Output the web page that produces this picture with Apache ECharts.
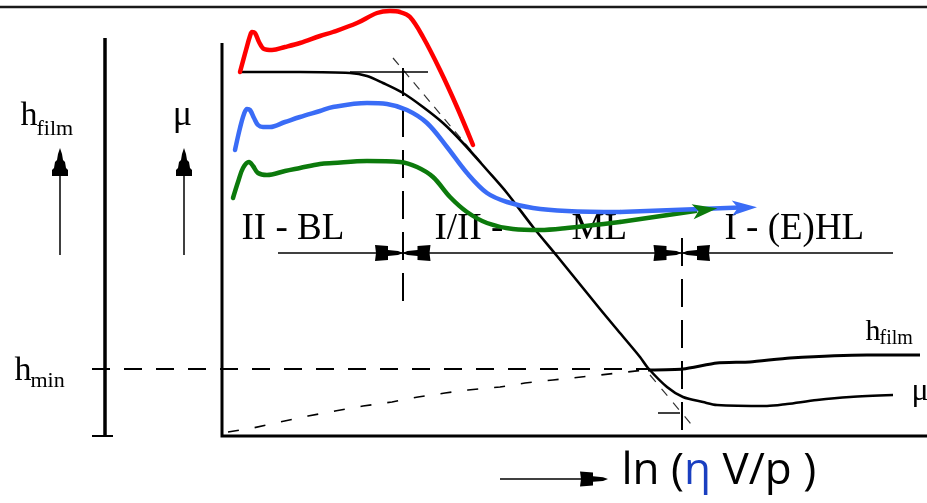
<!DOCTYPE html>
<html>
<head>
<meta charset="utf-8">
<script src="https://cdn.jsdelivr.net/npm/echarts@6/dist/echarts.min.js"></script>
<style>
html,body{margin:0;padding:0;background:#fff;}
#chart{width:927px;height:503px;}
</style>
</head>
<body>
<div id="chart"></div>
<script>
// ---------- data (schematic units: x = ln(eta V/p), y = mu / h) ----------
const xRange = [-44.4, 141];
const yRange = [-16.75, 109];

// coloured measured friction curves
const redCurve = [[3.6,91],[4.8,96.5],[5.6,100],[6.0,101],[6.6,100.75],[7.4,98.5],[8.4,96.75],[10.0,96.5],[12.6,97.25],[15.6,98.25],[19.6,100],[22.2,101],[27.0,103.25],[31.0,105.75],[33.6,106.25],[35.6,106],[37.6,104.75],[40.2,99.75],[43.6,91.5],[47.0,82.25],[50.2,72.75]];
const blueCurve = [[2.6,71.5],[3.6,77],[4.4,80.5],[5.0,81.75],[5.6,81.5],[6.4,79.5],[7.2,77.75],[8.2,77.25],[9.6,77.25],[12.6,78.5],[15.6,79.75],[19.6,81.25],[22.2,82.25],[29.0,83.25],[33.0,83],[37.0,81.5],[41.0,78.25],[45.0,72.25],[49.0,65.75],[53.0,60.75],[57.0,58.5],[62.2,57],[69.0,56.25],[79.6,56]];
const blueTail = [[79.6,56],[103.6,57.1]];
const blueTip = [104.5,57.1];
const greenCurve = [[2.2,59.5],[3.2,63.5],[4.2,67],[5.4,68.5],[6.2,67.5],[7.2,65.75],[9.0,65.25],[12.6,66.25],[15.6,67],[19.6,68],[22.2,68.25],[29.0,68.75],[35.6,68.5],[39.0,67.25],[42.2,64.75],[45.6,59.75],[49.0,56],[53.0,53.25],[58.2,51.75],[63.6,51.5],[69.0,52],[79.6,53.5]];
const greenTail = [[79.6,53.5],[95.0,56.3]];
const greenTip = [96.6,56.5];

// Stribeck (mu) curve and film thickness curve
const muCurve = [[3.6,91],[15.6,91],[25.6,90.75],[29.0,90],[32.2,88.25],[36.2,85.75],[40.2,82.25],[44.2,78.25],[48.2,73.25],[53.0,66.5],[57.0,60.75],[62.2,52.25],[67.0,45],[75.6,31.75],[79.6,25.75],[83.6,19.75],[85.2,17],[89.0,12.25],[92.2,9.75],[96.2,8.5],[99.0,7.75],[109.0,7.5],[113.0,8.0],[119.0,9],[125.6,9.75],[134.2,10.25]];
const muFlatExt = [[25.6,91],[41.2,91]];
const hFilmCurve = [[85.2,16.5],[92.2,16.75],[99.0,18.25],[105.6,18.5],[113.6,19.5],[129.0,20.25],[139.6,20.25]];
const boundaryDashed = [[1.2,1],[6.2,2],[11.6,3.5],[17.2,5],[22.6,6.25],[28.2,7.5],[34.0,8.5],[39.2,9.75],[44.6,10.75],[49.2,11.5],[55.6,12.25],[60.6,13.25],[66.2,14],[75.6,15.25],[84.6,16.5]];
const tangentTop = [[34.2,94.5],[53.6,65.75]];
const tangentBottom = [[85.6,15.25],[94.8,1.5]];
const tangentTick = [[87.2,5.75],[91.6,5.75]];

// axes and reference lines
const muAxis = [[0,98.25],[0,0],[141,0]];
const hAxis = [[-23.4,99.5],[-23.4,0]];
const hAxisTick = [[-26,0],[-21.8,0]];
const hMinLine = [[-26,16.75],[85.2,16.75]];
const regimeLine = [[11.2,45.75],[134.2,45.75]];
const boundary1 = [[36.2,92],[36.2,32.75]];
const boundary2 = [[92,49.5],[92,1]];
const topRule = [[-44.4,107.25],[141,107.25]];
const hArrowShaft = [[-32.4,45.25],[-32.4,67]];
const muArrowShaft = [[-7.6,45.25],[-7.6,67]];
const xArrowShaft = [[55.6,-10.75],[73.6,-10.75]];

// arrow heads
const upHeads = [[-32.4,68.5],[-7.6,68.5]];
const rightHeads = [[33.4,45.75],[89.1,45.75]];
const leftHeads = [[38.9,45.75],[94.8,45.75]];
const xArrowHead = [[74.4,-10.75]];

// text annotations: [x, y, text]
const hLeftMain = [-40.2,79.75,'h'];
const hLeftSub = [-37,76.5,'film'];
const muLeft = [-7.8,80,'μ'];
const hMinMain = [-41.4,16,'h'];
const hMinSub = [-38.2,13.5,'min'];
const hRightMain = [128.8,25.75,'h'];
const hRightSub = [131.6,24.25,'film'];
const muRight = [138,11,'μ'];
const regimeLabels = [[4,51.6,'II - BL'],[42.6,51.6,'I/II -'],[70,51.6,'ML'],[100.6,51.6,'I - (E)HL']];
const xTitle = [80,-9];

// ---------- build ----------
const SERIF = '"Liberation Serif", "DejaVu Serif", serif';
const SANS = '"Open Sans", "Noto Sans", sans-serif';
function line(data, color, width, opts) {
  opts = opts || {};
  return {
    type:'line', data:data, showSymbol:false, symbol:'none', clip:false, silent:true,
    smooth: opts.smooth || false, z: opts.z || 2, animation:false,
    lineStyle:{color:color, width:width, type: opts.dash || 'solid', cap: opts.cap || 'butt', join:'miter', opacity:1}
  };
}
function heads(data, path, size, rotate, color, z) {
  return {
    type:'scatter', data:data, symbol:path, symbolSize:size, symbolRotate:rotate||0,
    clip:false, silent:true, z:z||3, itemStyle:{color:color, opacity:1}
  };
}
function text(item, size, opts) {
  opts = opts || {};
  return {
    type:'scatter', data:[[item[0], item[1]]], symbolSize:1, clip:false, silent:true, z:5,
    itemStyle:{color:'rgba(0,0,0,0)', opacity:1},
    label:{show:true, position:[0,0], align: opts.align || 'left', verticalAlign:'middle', opacity:1,
      formatter: opts.formatter || item[2], fontFamily: opts.family || SERIF, fontSize:size,
      color: opts.color || '#000', fontWeight: opts.weight || 'normal', rich: opts.rich}
  };
}

const HEAD_H = 'path://M0,0 L13,1 L13,5 L23,6 L28,8 L23,10 L13,11 L13,15 L0,16 L1,8 Z';
const HEAD_V = 'path://M8,0 L10,6 L11,12 L13,14 L14,20 L16,22 L16,28 L0,28 L0,22 L2,20 L3,14 L5,12 L6,6 Z';
const HEAD_NOTCH = 'path://M0,0 L25,7.5 L0,15 L6,7.5 Z';

const series = [
  line(topRule, '#1a1a1a', 2.5),
  line(muAxis, '#000', 3),
  line(hAxis, '#000', 3.5),
  line(hAxisTick, '#000', 2),
  line(hMinLine, '#000', 2, {dash:[18,14]}),
  line(hArrowShaft, '#000', 1.5),
  line(muArrowShaft, '#000', 1.5),
  line(regimeLine, '#000', 1.5),
  line(boundary1, '#000', 2, {dash:[28,13]}),
  line(boundary2, '#000', 2, {dash:[28,13]}),
  line(boundaryDashed, '#000', 1.6, {dash:[11,16]}),
  line(tangentTop, '#333', 1.2, {dash:[9,7]}),
  line(tangentBottom, '#333', 1.2, {dash:[9,9]}),
  line(tangentTick, '#000', 1.5),
  line(muFlatExt, '#000', 1.3),
  line(muCurve, '#000', 2.6, {smooth:0.3, z:3}),
  line(hFilmCurve, '#000', 3, {smooth:0.2, z:3}),
  line(xArrowShaft, '#000', 1.5),
  heads(upHeads, HEAD_V, [16,28], 0, '#000'),
  heads(rightHeads, HEAD_H, [28,16], 0, '#000'),
  heads(leftHeads, HEAD_H, [28,16], 180, '#000'),
  heads(xArrowHead, HEAD_H, [28,15], 0, '#000'),
  line(greenCurve, '#0c7a0c', 4.5, {smooth:0.35, z:6, cap:'round'}),
  line(greenTail, '#0c7a0c', 4.5, {z:6}),
  heads([greenTip], HEAD_NOTCH, [25,15], 8, '#0c7a0c', 7),
  line(blueCurve, '#3a6cf6', 4.5, {smooth:0.35, z:6, cap:'round'}),
  line(blueTail, '#3a6cf6', 4.5, {z:6}),
  heads([blueTip], HEAD_NOTCH, [25,15], 2, '#3a6cf6', 7),
  line(redCurve, '#ff0000', 4.5, {smooth:0.35, z:6, cap:'round'}),
  text(hLeftMain, 34),
  text(hLeftSub, 22),
  text(muLeft, 36, {align:'center'}),
  text(hMinMain, 34),
  text(hMinSub, 22),
  text(hRightMain, 30),
  text(hRightSub, 20),
  text(muRight, 32)
].concat(regimeLabels.map(function(l){ return text(l, 37); }))
 .concat([text([xTitle[0], xTitle[1], ''], 44, {
   family: SANS,
   formatter:'{a|ln (}{b|η}{a| V/p )}',
   rich:{a:{fontSize:44, color:'#000', fontFamily:SANS},
         b:{fontSize:44, color:'#1a3fc0', fontFamily:SANS}}
 })]);

const chart = echarts.init(document.getElementById('chart'), null, {renderer:'canvas'});
chart.setOption({
  animation:false,
  backgroundColor:'#ffffff',
  grid:{left:0, right:0, top:0, bottom:0, containLabel:false},
  xAxis:{type:'value', min:xRange[0], max:xRange[1], show:false},
  yAxis:{type:'value', min:yRange[0], max:yRange[1], show:false},
  series:series
});
</script>
</body>
</html>
